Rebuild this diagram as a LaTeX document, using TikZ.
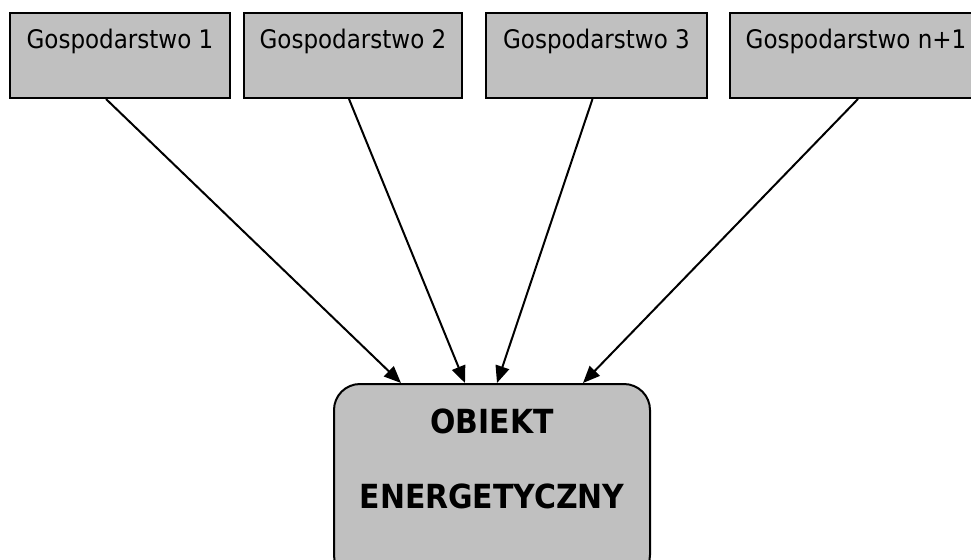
\documentclass[tikz,border=0pt]{standalone}
\usepackage{fontspec}
\setmainfont{DejaVu Sans Condensed}
\usetikzlibrary{arrows.meta}
\definecolor{boxgray}{RGB}{192,192,192}

\begin{document}
\begin{tikzpicture}[x=0.5pt, y=-0.5pt,
            farmnode/.style={draw=black, line width=1pt, fill=boxgray, anchor=north west,
                inner xsep=0pt, inner ysep=0pt, text height=17.5pt, text depth=25pt,
                font=\fontsize{12.8}{15}\selectfont},
            objnode/.style={draw=black, line width=1pt, fill=boxgray, anchor=north,
                rounded corners=13pt, align=center, inner xsep=0pt, inner ysep=0pt,
                minimum width=158pt, text height=62pt, text depth=36.5pt,
                font=\bfseries\fontsize{16.6}{37.5}\selectfont},
            flow/.style={-{Triangle[length=8.5pt, width=7pt]}, line width=1pt}
        ]
            \useasboundingbox (0, 0) rectangle (971, 559);
            \clip (0, 0) rectangle (971, 559);

            % farms (top row)
            \node[farmnode, minimum width=110pt] (f1) at (9, 12) {Gospodarstwo 1};
            \node[farmnode, minimum width=109pt] (f2) at (243, 12) {Gospodarstwo 2};
            \node[farmnode, minimum width=110.5pt] (f3) at (485, 12) {Gospodarstwo 3};
            \node[farmnode, minimum width=126pt] (f4) at (729, 12) {Gospodarstwo n+1};

            % energy object (bottom)
            \node[objnode] (obj) at (492, 383) {OBIEKT\\ENERGETYCZNY};

            % arrows
            \draw[flow] ([xshift=-7pt]f1.south) -- ([xshift=-45.5pt]obj.north);
            \draw[flow] ([xshift=-2pt]f2.south) -- ([xshift=-13.5pt]obj.north);
            \draw[flow] ([xshift=-2pt]f3.south) -- ([xshift=2.5pt]obj.north);
            \draw[flow] ([xshift=1pt]f4.south) -- ([xshift=45.5pt]obj.north);

        \end{tikzpicture}
\end{document}
